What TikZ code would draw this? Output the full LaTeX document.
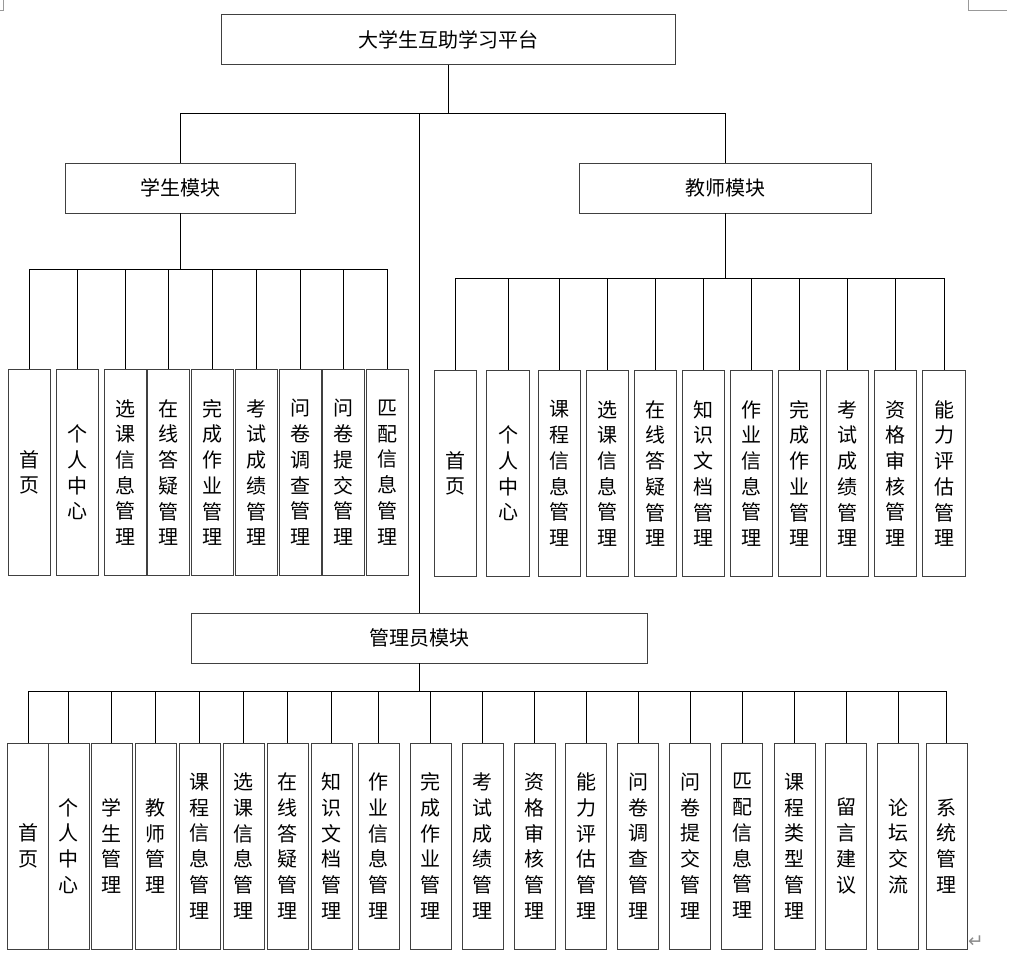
\documentclass[tikz,border=0pt]{standalone}
\usepackage{fontspec}
\setmainfont{Noto Sans CJK SC}
\newfontfamily\symfont{DejaVu Sans}
\usepackage{tikz}
\usetikzlibrary{positioning,calc}

\tikzset{
    modbox/.style={draw=black!75, line width=0.7pt, minimum height=37.5pt, inner sep=0pt, font=\fontsize{15}{18}\selectfont},
    leafbox/.style={draw=black!75, line width=0.7pt, minimum width=31.5pt, minimum height=155pt, inner sep=0pt, align=center, font=\fontsize{15}{19.3}\selectfont},
    link/.style={line width=0.75pt},
    cornermark/.style={draw=black!40, line width=0.75pt}
}

\begin{document}
\begin{tikzpicture}[x=0.75pt, y=-0.75pt]
    \useasboundingbox (0,0) rectangle (1029,962);

    % page corner marks
    \draw[cornermark] (3,0) -- (3,11) -- (0,11);
    \draw[cornermark] (968,0) -- (968,11) -- (1007,11);
    \node[text=black!45, font=\symfont\fontsize{14}{14}\selectfont, inner sep=0pt] (ret) at (976,942) {↵};

    % modules
    \node[modbox, minimum width=341pt] (root) at (448.5,39.5) {大学生互助学习平台};
    \node[modbox, minimum width=172.5pt] (stu) at (180,188) {学生模块};
    \node[modbox, minimum width=219pt] (tea) at (725,188) {教师模块};
    \node[modbox, minimum width=342pt] (adm) at (419,638) {管理员模块};

    \coordinate (tbar) at (0,114);
    \coordinate (sbar) at (0,270);
    \coordinate (bbar) at (0,279);
    \coordinate (abar) at (0,691);

    \draw[link] (root.south) -- (root.south |- tbar) -| (stu.north);
    \draw[link] (root.south |- tbar) -| (tea.north);
    \draw[link] (adm.north) -- (adm.north |- tbar);

    % student leaves
    \foreach \x/\t [count=\i] in {29/首\\页, 77/个\\人\\中\\心, 125/选\\课\\信\\息\\管\\理,
        168.5/在\\线\\答\\疑\\管\\理, 212.5/完\\成\\作\\业\\管\\理, 256/考\\试\\成\\绩\\管\\理,
        300/问\\卷\\调\\查\\管\\理, 343.5/问\\卷\\提\\交\\管\\理, 387.5/匹\\配\\信\\息\\管\\理}
    {
        \node[leafbox] (s\i) at (\x,472.5) {\t};
        \draw[link] (stu.south) -- (stu.south |- sbar) -| (s\i.north);
    }

    % teacher leaves
    \foreach \x/\t [count=\i] in {455.5/首\\页, 508/个\\人\\中\\心, 559.5/课\\程\\信\\息\\管\\理,
        607.5/选\\课\\信\\息\\管\\理, 655.5/在\\线\\答\\疑\\管\\理, 703.5/知\\识\\文\\档\\管\\理,
        751.5/作\\业\\信\\息\\管\\理, 799.5/完\\成\\作\\业\\管\\理, 847.5/考\\试\\成\\绩\\管\\理,
        895.5/资\\格\\审\\核\\管\\理, 944/能\\力\\评\\估\\管\\理}
    {
        \node[leafbox, minimum width=32pt] (t\i) at (\x,473.5) {\t};
        \draw[link] (tea.south) -- (tea.south |- bbar) -| (t\i.north);
    }

    % admin leaves
    \foreach \x/\t [count=\i] in {28/首\\页, 68.5/个\\人\\中\\心, 111.5/学\\生\\管\\理,
        155.5/教\\师\\管\\理, 199.5/课\\程\\信\\息\\管\\理, 243.5/选\\课\\信\\息\\管\\理,
        287.5/在\\线\\答\\疑\\管\\理, 331.5/知\\识\\文\\档\\管\\理, 378.5/作\\业\\信\\息\\管\\理,
        430.5/完\\成\\作\\业\\管\\理, 482.5/考\\试\\成\\绩\\管\\理, 534.5/资\\格\\审\\核\\管\\理,
        586/能\\力\\评\\估\\管\\理, 638/问\\卷\\调\\查\\管\\理, 690/问\\卷\\提\\交\\管\\理,
        742/匹\\配\\信\\息\\管\\理, 794.5/课\\程\\类\\型\\管\\理, 846/留\\言\\建\\议,
        898/论\\坛\\交\\流, 946.5/系\\统\\管\\理}
    {
        \node[leafbox, minimum width=30.75pt, minimum height=154.5pt] (a\i) at (\x,846) {\t};
        \draw[link] (adm.south) -- (adm.south |- abar) -| (a\i.north);
    }
\end{tikzpicture}
\end{document}
